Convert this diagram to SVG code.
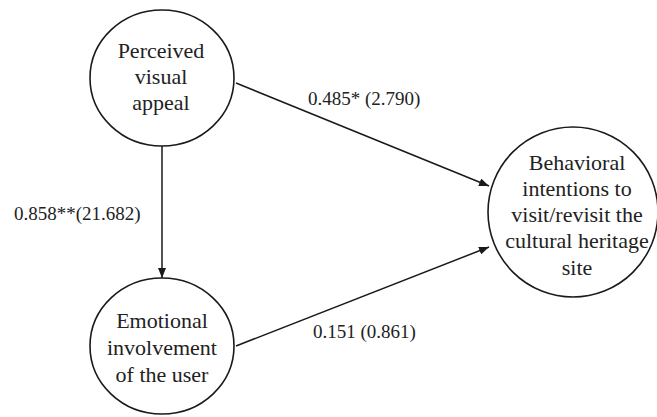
<svg xmlns="http://www.w3.org/2000/svg" width="657" height="417" viewBox="0 0 657 417">
<defs>
<marker id="arr" viewBox="0 0 10 8" refX="10" refY="4" markerWidth="10" markerHeight="8" markerUnits="userSpaceOnUse" orient="auto">
<path d="M0,0 L10,4 L0,8 Z" fill="#1a1a1a"/>
</marker>
<style>
.node{fill:#fff;stroke:#1a1a1a;stroke-width:1.6}
.nt{font-family:'Liberation Serif','DejaVu Serif',serif;font-size:22px;fill:#222;text-anchor:middle}
.lbl{font-family:'Liberation Serif','DejaVu Serif',serif;font-size:19px;fill:#222}
.edge{stroke:#1a1a1a;stroke-width:1.5;fill:none;marker-end:url(#arr)}
</style>
</defs>
<rect width="657" height="417" fill="#fff"/>
<g id="connectors">
<line class="edge" x1="236" y1="83" x2="489" y2="186"/>
<line class="edge" x1="162" y1="146" x2="162" y2="278"/>
<line class="edge" x1="236" y1="346" x2="489" y2="247"/>
<text class="lbl" x="308" y="105">0.485* (2.790)</text>
<text class="lbl" x="14" y="220">0.858**(21.682)</text>
<text class="lbl" x="313" y="338">0.151 (0.861)</text>
</g>
<g id="node-pva">
<ellipse class="node" cx="162" cy="78" rx="72" ry="68"/>
<text class="nt" x="161" y="58">Perceived</text>
<text class="nt" x="161" y="84">visual</text>
<text class="nt" x="161" y="110">appeal</text>
</g>
<g id="node-eiu">
<ellipse class="node" cx="162" cy="346" rx="72" ry="68"/>
<text class="nt" x="162" y="328">Emotional</text>
<text class="nt" x="162" y="355">involvement</text>
<text class="nt" x="162" y="382">of the user</text>
</g>
<g id="node-bi">
<ellipse class="node" cx="573" cy="212" rx="85" ry="85"/>
<text class="nt" x="577" y="170">Behavioral</text>
<text class="nt" x="577" y="196">intentions to</text>
<text class="nt" x="577" y="222">visit/revisit the</text>
<text class="nt" x="577" y="248">cultural heritage</text>
<text class="nt" x="577" y="275">site</text>
</g>
</svg>
